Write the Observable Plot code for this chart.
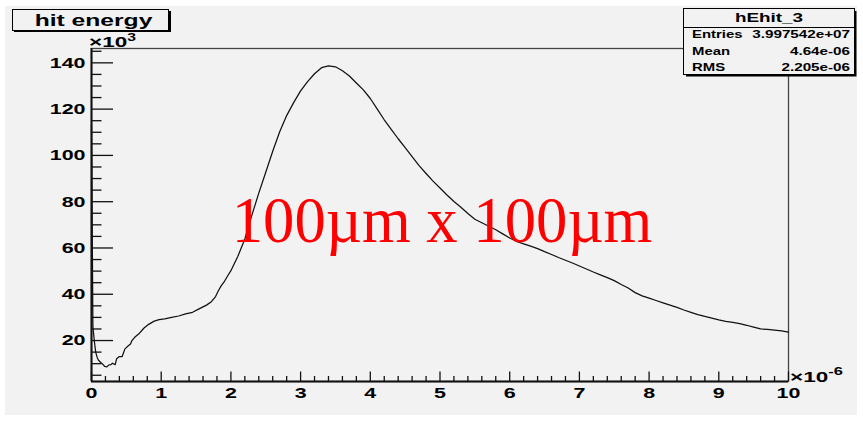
<!DOCTYPE html>
<html><head><meta charset="utf-8">
<script src="https://cdn.jsdelivr.net/npm/d3@7"></script>
<script src="https://cdn.jsdelivr.net/npm/@observablehq/plot@0.6"></script>
<style>
html,body{margin:0;padding:0;background:#fff;}
#chart{width:863px;height:421px;}
svg{display:block;}
</style></head><body><div id="chart"></div>
<script>
// hit energy (x 10^-6) and entries (x 10^3)
const energy = [0, 0.02, 0.04, 0.06, 0.08, 0.10, 0.13, 0.16, 0.19, 0.22, 0.25, 0.28, 0.30, 0.34, 0.36, 0.40, 0.44, 0.48, 0.52, 0.56, 0.58, 0.62, 0.68, 0.75, 0.82, 0.90, 0.97, 1.05, 1.15, 1.25, 1.35, 1.45, 1.55, 1.65, 1.72, 1.78, 1.82, 1.86, 1.90, 1.95,
  2.0, 2.1, 2.2, 2.3, 2.4, 2.5, 2.6, 2.7, 2.8, 2.9, 3.0, 3.1, 3.2, 3.3, 3.4, 3.5, 3.6, 3.7, 3.8, 3.9,
  4.0, 4.1, 4.2, 4.3, 4.4, 4.5, 4.6, 4.7, 4.8, 4.9, 5.0, 5.1, 5.2, 5.3, 5.4, 5.5, 5.6, 5.7, 5.8, 5.9,
  6.0, 6.1, 6.2, 6.3, 6.4, 6.5, 6.6, 6.7, 6.8, 6.9, 7.0, 7.1, 7.2, 7.3, 7.4, 7.5, 7.6, 7.7, 7.8, 7.9,
  8.0, 8.1, 8.2, 8.3, 8.4, 8.5, 8.6, 8.7, 8.8, 8.9, 9.0, 9.1, 9.2, 9.3, 9.4, 9.5, 9.6, 9.7, 9.8, 9.9, 10.0];
const entries = [113, 26, 20, 15, 12.8, 11.5, 10.6, 9.8, 8.8, 8.6, 9.5, 9.6, 10.2, 9.6, 12.1, 13.1, 13.1, 16.4, 17.5, 18.5, 20.0, 21.4, 22.9, 25.3, 27.0, 28.4, 29.0, 29.4, 30.0, 30.6, 31.5, 32.2, 33.8, 35.3, 36.8, 39.0, 41.5, 43.6, 45.2, 47.8,
  50.2, 56.4, 63.9, 74.1, 83.7, 92.7, 101.8, 110.2, 117.2, 122.8, 127.9, 131.9, 135.3, 137.9, 138.7, 138.3, 136.6, 134.3, 131.3, 128.3,
  124.6, 120.0, 115.4, 111.3, 107.2, 103.4, 99.5, 95.6, 92.2, 88.9, 85.9, 82.9, 80.1, 77.6, 74.9, 72.4, 70.9, 69.4, 67.9, 66.1,
  64.3, 62.8, 61.8, 60.8, 59.7, 58.4, 57.2, 55.9, 54.7, 53.5, 52.2, 50.9, 49.6, 48.4, 47.2, 45.9, 44.2, 42.7, 40.7, 39.3,
  38.3, 37.3, 36.3, 35.3, 34.3, 33.2, 32.2, 31.2, 30.4, 29.7, 28.9, 28.3, 27.8, 27.3, 26.6, 25.8, 25.0, 24.8, 24.5, 24.2, 23.6];

const xTicks = [0, 1, 2, 3, 4, 5, 6, 7, 8, 9, 10];
const yTicks = [20, 40, 60, 80, 100, 120, 140];
const xMinorTicks = d3.range(0, 10.001, 0.2).filter(v => Math.abs(v - Math.round(v)) > 1e-6);
const yMinorTicks = d3.range(5, 146, 5).filter(v => v % 20 !== 0);

const titleText = "hit energy";
const statsName = "hEhit_3";
const statLabels = ["Entries", "Mean", "RMS"];
const statValues = ["3.997542e+07", "4.64e-06", "2.205e-06"];
const annotationText = "100\u00b5m x 100\u00b5m";

const yDomain = [2.3, 146.2];
const points = energy.map((x, i) => ({x, y: entries[i]}));
const W = 863, H = 421, mL = 91, mR = 75, mT = 48, mB = 40;
const plotW = W - mL - mR, plotH = H - mT - mB;
const ink = "#111";
const sans = "'Liberation Sans', Arial, Helvetica, sans-serif";

const chart = Plot.plot({
  width: W, height: H,
  marginLeft: mL, marginRight: mR, marginTop: mT, marginBottom: mB,
  style: {background: "transparent", color: "#000", fontFamily: sans},
  x: {domain: [0, 10]},
  y: {domain: yDomain},
  marks: [
    Plot.frame({stroke: "#444", strokeWidth: 1.3}),
    Plot.tickX(xMinorTicks, {x: d => d, insetTop: plotH - 5, stroke: ink, strokeWidth: 1.3}),
    Plot.tickX(xTicks, {x: d => d, insetTop: plotH - 9.5, stroke: ink, strokeWidth: 1.3}),
    Plot.tickY(yMinorTicks, {y: d => d, insetRight: plotW - 10.5, stroke: ink, strokeWidth: 1.3}),
    Plot.tickY(yTicks, {y: d => d, insetRight: plotW - 22, stroke: ink, strokeWidth: 1.3}),
    Plot.line(points, {x: "x", y: "y", stroke: ink, strokeWidth: 1.25}),
    Plot.ruleX([0], {stroke: ink, strokeWidth: 2}),
    Plot.ruleY([yDomain[0]], {stroke: ink, strokeWidth: 2}),
    Plot.axisX(xTicks, {tickSize: 0, tickPadding: 6, fontSize: 15, fontWeight: "bold", label: null, tickFormat: d => String(d)}),
    Plot.axisY(yTicks, {tickSize: 0, tickPadding: 6, fontSize: 15, fontWeight: "bold", label: null, tickFormat: d => String(d)})
  ]
});

const svg = d3.select(chart);
function stretch(sel, s) {
  sel.each(function() {
    const t = this.getAttribute("transform");
    if (t) this.setAttribute("transform", t + ` scale(${s},1)`);
    else {
      const x = +this.getAttribute("x") || 0, y = +this.getAttribute("y") || 0;
      this.removeAttribute("x"); this.removeAttribute("y");
      this.setAttribute("transform", `translate(${x},${y}) scale(${s},1)`);
    }
  });
}
stretch(svg.selectAll('g[aria-label="x-axis tick label"] text'), 1.43);
stretch(svg.selectAll('g[aria-label="y-axis tick label"] text'), 1.43);

// canvas background
svg.insert("rect", ":first-child").attr("x", 5).attr("y", 6).attr("width", 852).attr("height", 409).attr("fill", "#f2f2f2");

function addText(str, x, y, size, opts = {}) {
  const t = svg.append("text")
    .attr("transform", `translate(${x},${y}) scale(${opts.sx ?? 1.43},1)`)
    .attr("font-family", opts.family || sans)
    .attr("font-weight", opts.weight || "bold")
    .attr("font-size", size)
    .attr("text-anchor", opts.anchor || "start")
    .attr("fill", opts.fill || "#000")
    .text(str);
  return t;
}

// axis multipliers
addText("\u00d710", 89, 47, 15, {sx: 1.5}).append("tspan").attr("dy", -6).attr("font-size", 10.5).text("3");
addText("\u00d710", 790, 382, 15, {sx: 1.5}).append("tspan").attr("dy", -7.5).attr("font-size", 11).text("-6");

// title box
svg.append("path").attr("d", "M14,31 H170 V11").attr("fill", "none").attr("stroke", "#000").attr("stroke-width", 2);
svg.append("rect").attr("x", 12.5).attr("y", 9.5).attr("width", 156).attr("height", 21).attr("fill", "#f2f2f2").attr("stroke", "#000").attr("stroke-width", 1);
addText(titleText, 93.5, 26, 17, {anchor: "middle", sx: 1.45});

// stats box
svg.append("path").attr("d", "M686,75.5 H855.5 V11").attr("fill", "none").attr("stroke", "#000").attr("stroke-width", 2);
svg.append("rect").attr("x", 683.5).attr("y", 8.5).attr("width", 171).attr("height", 66).attr("fill", "#f2f2f2").attr("stroke", "#000").attr("stroke-width", 1);
svg.append("line").attr("x1", 683.5).attr("x2", 854.5).attr("y1", 27.5).attr("y2", 27.5).attr("stroke", "#000").attr("stroke-width", 1);
addText(statsName, 769, 21.5, 13.5, {anchor: "middle", sx: 1.4});
const rowY = [37.5, 54.5, 71];
statLabels.forEach((l, i) => {
  addText(l, 692, rowY[i], 10.5, {sx: 1.42});
  addText(statValues[i], 850, rowY[i], 10.5, {anchor: "end", sx: 1.45});
});

// red annotation
addText(annotationText, 442, 242, 66, {anchor: "middle", weight: "normal", family: "'Liberation Serif', 'Times New Roman', serif", fill: "#ff0000", sx: 0.95});

document.getElementById("chart").appendChild(chart);
</script></body></html>
